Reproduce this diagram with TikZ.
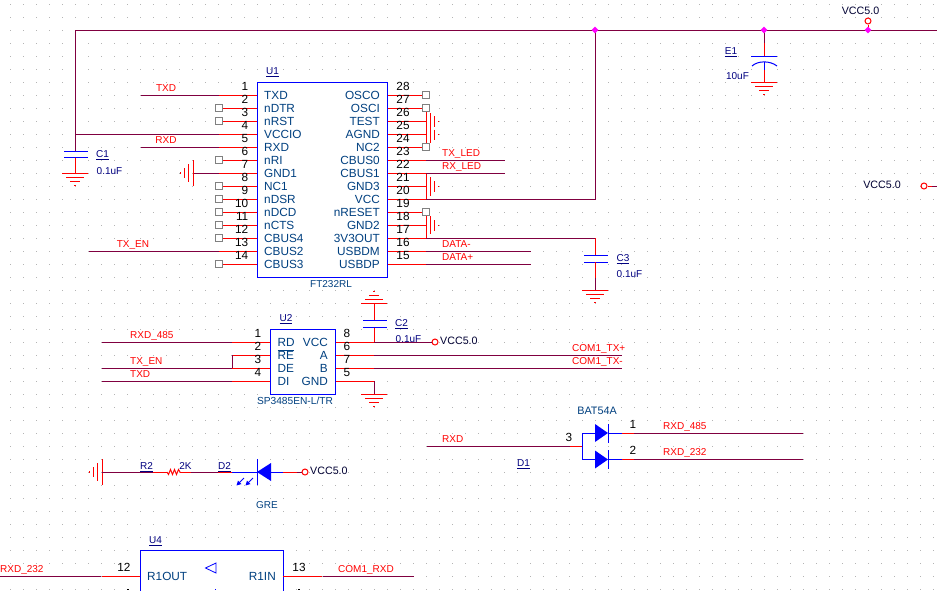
\documentclass[tikz,border=0pt]{standalone}
\usepackage{fontspec}
\setmainfont{Liberation Sans}
\definecolor{wirec}{RGB}{128,0,64}
\definecolor{pinc}{RGB}{255,0,0}
\definecolor{bodyc}{RGB}{0,0,255}
\definecolor{namec}{RGB}{0,64,128}
\definecolor{refc}{RGB}{0,0,128}
\definecolor{dotc}{RGB}{180,180,180}
\definecolor{sqc}{RGB}{128,128,128}
\definecolor{juncc}{RGB}{255,0,255}
\tikzset{
  lbl/.style={inner sep=0pt,text height=0.72em,text depth=0pt,font=\fontsize{10}{12}\selectfont},
  wirel/.style={draw=wirec,line width=1pt},
  pinl/.style={draw=pinc,line width=1pt},
  bodyl/.style={draw=bodyc,line width=1pt},
  pinname/.style={lbl,text=namec,font=\fontsize{11.8}{13}\selectfont},
  pinnum/.style={lbl,text=black,font=\fontsize{11.8}{13}\selectfont},
  netlbl/.style={lbl,text=pinc},
  reflbl/.style={lbl,text=refc},
  vcclbl/.style={lbl,text=black!80!blue,font=\fontsize{10.7}{12}\selectfont},
  nc/.style={draw=sqc,fill=white,line width=1pt,minimum size=6.5pt,inner sep=0pt,rectangle},
  juncdot/.style={fill=juncc,diamond,inner sep=0pt,minimum size=7pt},
  pwr/.style={draw=pinc,fill=white,line width=1pt,circle,inner sep=0pt,minimum size=6pt},
}
\usetikzlibrary{shapes.geometric}
\newcommand{\gnddown}[2]{%
  \draw[pinl] (#1-13,#2) -- (#1+13,#2) (#1-9,#2+4) -- (#1+9,#2+4) (#1-5,#2+8) -- (#1+5,#2+8) (#1-1,#2+12) -- (#1+1,#2+12);}
\newcommand{\gndup}[2]{%
  \draw[pinl] (#1-13,#2) -- (#1+13,#2) (#1-9,#2-4) -- (#1+9,#2-4) (#1-5,#2-8) -- (#1+5,#2-8) (#1-1,#2-12) -- (#1+1,#2-12);}
\newcommand{\gndleft}[2]{%
  \draw[pinl] (#1,#2-13) -- (#1,#2+13) (#1-4.5,#2-9) -- (#1-4.5,#2+9) (#1-9,#2-5) -- (#1-9,#2+5) (#1-13,#2-1) -- (#1-13,#2+1);}
\begin{document}
\begin{tikzpicture}[x=1pt,y=-1pt]
\useasboundingbox (0,0) rectangle (937,590);
\clip (0,0) rectangle (937,590);
\fill[white] (0,0) rectangle (937,590);
% grid
\foreach \gx in {10,23,...,937}{\foreach \gy in {4,17,...,590}{\fill[dotc] (\gx-.5,\gy-.5) rectangle (\gx+.5,\gy+.5);}}
% component bodies hide the grid
\fill[white] (257.5,82.5) rectangle (387.5,277);
\fill[white] (270.5,329) rectangle (335.5,394);
\fill[white] (140.5,550.5) rectangle (283.5,620);

% ---- U1 ----
\foreach \n/\y/\t in {1/95/TXD,2/108/nDTR,3/121/nRST,4/134/VCCIO,5/147/RXD,6/160/nRI,7/173/GND1,8/186/NC1,9/199/nDSR,10/212/nDCD,11/225/nCTS,12/238/CBUS4,13/251/CBUS2,14/264/CBUS3}{
  \coordinate (L\n) at (257,\y);
  \coordinate (La\n) at (219,\y);
  \draw[pinl] (L\n) -- (La\n);
  \node[pinname,anchor=west] (nameL\n) at (264,\y+1) {\t};
  \node[pinnum,anchor=east] (numL\n) at (248.5,\y-8) {\n};
}
\foreach \n/\y/\t in {28/95/OSCO,27/108/OSCI,26/121/TEST,25/134/AGND,24/147/NC2,23/160/CBUS0,22/173/CBUS1,21/186/GND3,20/199/VCC,19/212/nRESET,18/225/GND2,17/238/3V3OUT,16/251/USBDM,15/264/USBDP}{
  \coordinate (R\n) at (387,\y);
  \coordinate (Ra\n) at (426,\y);
  \draw[pinl] (R\n) -- (Ra\n);
  \node[pinname,anchor=east] (nameR\n) at (380,\y+1) {\t};
  \node[pinnum] (numR\n) at (403,\y-8) {\n};
}
\foreach \c in {La2,La3,La6,La8,La9,La10,La11,La12,La14}{\node[nc] (sq\c) at (\c) {};}
\draw[bodyl,fill=none] (257.5,82.5) rectangle (387.5,277);
\node[reflbl] (u1ref) at (272.5,71) {\underline{U1}};
\node[reflbl,text=namec] (u1val) at (331,284) {FT232RL};

% top rail
\coordinate (railL) at (75,30);
\coordinate (railR) at (937,30);
\coordinate (jVcc) at (595,30);
\coordinate (jE1) at (764,30);
\coordinate (jTop) at (868,30);
\draw[wirel] (railR) -- (railL) -- (75,151);
\draw[wirel] (La4) -- (75,134);
% C1
\draw[bodyl] (64,151) -- (88,151) (64,157.5) -- (88,157.5);
\draw[pinl] (75,157.5) -- (75,173);
\gnddown{75}{173}
\node[reflbl] (c1ref) at (102.5,154) {\underline{C1}};
\node[reflbl] (c1val) at (109.5,170.5) {0.1uF};
% U1 left nets
\coordinate (txdE) at (141,95);
\coordinate (rxdE) at (141,147);
\coordinate (enE) at (89,251);
\draw[wirel] (txdE) -- (La1);
\draw[wirel] (rxdE) -- (La5);
\draw[wirel] (enE) -- (La13);
\node[netlbl] (lTXD) at (166,88) {TXD};
\node[netlbl] (lRXD) at (166,140) {RXD};
\node[netlbl] (lEN) at (133,244) {TX\_EN};
\draw[wirel] (193,173) -- (La7);
\gndleft{193}{173}
% U1 right
\draw[pinl] (Ra27) -- (Ra24);
\draw[pinl] (430.5,113) -- (430.5,143) (434,116) -- (434,127) (434,129.5) -- (434,139.5);
\draw[pinl] (438,121) -- (439,121) (438,134) -- (439,134);
\draw[pinl] (Ra22) -- (Ra20);
\draw[pinl] (430.5,177) -- (430.5,196) (434,181) -- (434,192) (438,186) -- (439,186);
\draw[pinl] (Ra19) -- (Ra17);
\draw[pinl] (430.5,216) -- (430.5,234) (434,220) -- (434,231) (438,225) -- (439,225);
\foreach \c in {Ra28,Ra27,Ra24,Ra19}{\node[nc] (sq\c) at (\c) {};}
\draw[wirel] (Ra23) -- (505,160);
\draw[wirel] (Ra22) -- (505,173);
\draw[wirel] (Ra20) -- (595,199) -- (jVcc);
\coordinate (c3t) at (595,255);
\draw[wirel] (Ra17) -- (595,238);
\draw[pinl] (595,238) -- (c3t);
\draw[wirel] (Ra16) -- (531,251);
\draw[wirel] (Ra15) -- (531,264);
\node[netlbl,anchor=west] (lTXL) at (442,153) {TX\_LED};
\node[netlbl,anchor=west] (lRXL) at (442,166) {RX\_LED};
\node[netlbl,anchor=west] (lDm) at (442,244) {DATA-};
\node[netlbl,anchor=west] (lDp) at (442,257) {DATA+};
% C3
\draw[bodyl] (584,255.5) -- (608,255.5) (584,262) -- (608,262);
\draw[pinl] (595,262) -- (595,277.5);
\draw[wirel] (595,277.5) -- (595,290);
\gnddown{595}{290}
\node[reflbl] (c3ref) at (623,258) {\underline{C3}};
\node[reflbl] (c3val) at (629.5,274) {0.1uF};

% ---- E1 ----
\draw[wirel] (jE1) -- (764,43);
\draw[pinl] (764,43) -- (764,56);
\draw[bodyl] (751,56.5) -- (777,56.5);
\draw[bodyl] (752,66) .. controls (758,60.5) and (770,60.5) .. (777,66);
\draw[bodyl] (764,61.5) -- (764,70);
\draw[pinl] (764,70) -- (764,82);
\gnddown{764}{82}
\node[reflbl] (e1ref) at (731,51) {\underline{E1}};
\node[reflbl] (e1val) at (737.5,76) {10uF};
\node[vcclbl] (vccTt) at (860.5,11) {VCC5.0};
\node[pwr] (vccT) at (868,21) {};
\draw[pinl] (vccT) -- (jTop);
\node[juncdot] (dA) at (jVcc) {};
\node[juncdot] (dB) at (jE1) {};
\node[juncdot] (dC) at (jTop) {};
% right VCC
\node[vcclbl] (vccRt) at (882,185) {VCC5.0};
\node[pwr] (vccR) at (924,186) {};
\draw[pinl] (vccR) -- (932,186);
\draw[wirel] (932,186) -- (937,186);

% ---- U2 ----
\node[reflbl] (c2val) at (408.5,339) {0.1uF};
\foreach \n/\y in {1/342,2/355,3/368,4/381}{
  \coordinate (UL\n) at (270,\y);
  \coordinate (ULa\n) at (232,\y);
  \draw[pinl] (UL\n) -- (ULa\n);
  \node[pinnum] (unL\n) at (258,\y-8) {\n};
}
\foreach \n/\y/\m in {8/342/a,6/355/b,7/368/c,5/381/d}{
  \coordinate (UR\n) at (335,\y);
  \coordinate (URa\n) at (374,\y);
  \draw[pinl] (UR\n) -- (URa\n);
  \node[pinnum] (unR\n) at (347,\y-8) {\n};
}
\draw[bodyl] (270.5,329) rectangle (335.5,394);
\node[pinname,anchor=west] (uRD) at (277.5,343) {RD};
\node[pinname,anchor=west] (uRE) at (277.5,356) {$\overline{\hbox{RE}}$};
\node[pinname,anchor=west] (uDE) at (277.5,369) {DE};
\node[pinname,anchor=west] (uDI) at (277.5,382) {DI};
\node[pinname,anchor=east] (uVC) at (328,343) {VCC};
\node[pinname,anchor=east] (uA) at (328,356) {A};
\node[pinname,anchor=east] (uB) at (328,369) {B};
\node[pinname,anchor=east] (uG) at (328,382) {GND};
\node[reflbl] (u2ref) at (286,318) {\underline{U2}};
\node[reflbl,text=namec,font=\fontsize{10.2}{12}\selectfont] (u2val) at (295,400.5) {SP3485EN-L/TR};
\draw[wirel] (102,342) -- (ULa1);
\draw[wirel] (102,368) -- (ULa3);
\draw[wirel] (102,381) -- (ULa4);
\draw[wirel] (ULa2) -- (ULa3);
\node[netlbl,anchor=west] (l485) at (130,335) {RXD\_485};
\node[netlbl,anchor=west] (lEN2) at (130,361) {TX\_EN};
\node[netlbl,anchor=west] (lTXD2) at (130,374) {TXD};
\draw[wirel] (URa6) -- (622,355);
\draw[wirel] (URa7) -- (622,368);
\node[netlbl,anchor=west] (lCp) at (572,348) {COM1\_TX+};
\node[netlbl,anchor=west] (lCm) at (572,361) {COM1\_TX-};
\node[pwr] (vccU) at (435,342) {};
\draw[wirel] (URa8) -- (vccU);
\node[vcclbl,anchor=west] (vccUt) at (440,341) {VCC5.0};
\draw[wirel] (URa5) -- (374,394);
\gnddown{374}{394}
\draw[pinl] (374,327) -- (URa8);
\draw[bodyl] (363,320) -- (387,320) (363,327) -- (387,327);
\draw[pinl] (374,303) -- (374,320);
\gndup{374}{303}
\node[reflbl] (c2ref) at (401.5,323) {\underline{C2}};

% ---- D1 ----
\coordinate (dT) at (595,433);
\coordinate (dB2) at (595,459.5);
\fill[bodyc] (595,424) -- (608,433) -- (595,442) -- cycle;
\fill[bodyc] (595,450.5) -- (608,459.5) -- (595,468.5) -- cycle;
\draw[bodyl] (608,424) -- (608,442.5) (608,450) -- (608,468.5);
\draw[bodyl] (dT) -- (582,433) -- (582,459.5) -- (dB2);
\draw[bodyl] (608,433) -- (622,433) (608,459.5) -- (622,459.5);
\draw[pinl] (622,433) -- (634,433) (622,459.5) -- (634,459.5);
\draw[wirel] (634,433) -- (803,433) (634,459.5) -- (803,459.5);
\draw[wirel] (427,446) -- (570,446);
\draw[pinl] (570,446) -- (582,446);
\node[pinnum] (dn3) at (569,438) {3};
\node[pinnum] (dn1) at (633,425) {1};
\node[pinnum] (dn2) at (633,451) {2};
\node[netlbl,anchor=west] (l4852) at (663,426) {RXD\_485};
\node[netlbl,anchor=west] (l232) at (663,452) {RXD\_232};
\node[netlbl,anchor=west] (lR3) at (442,439) {RXD};
\node[reflbl] (d1ref) at (523.5,463) {\underline{D1}};
\node[reflbl,text=namec,font=\fontsize{10.8}{12}\selectfont] (d1val) at (597,411) {BAT54A};

% ---- R2 / D2 ----
\gndleft{102}{472}
\draw[wirel] (102,472) -- (153,472);
\draw[pinl] (153,472) -- (167,472);
\draw[pinl] (167,472) -- (168.5,474.5) -- (170.5,469.5) -- (172.5,474.5) -- (174.5,469.5) -- (176.5,474.5) -- (178.5,469.5) -- (180,472);
\draw[pinl] (180,472) -- (191,472);
\draw[wirel] (191,472) -- (218,472);
\draw[pinl] (218,472) -- (232,472);
\draw[bodyl] (232,472) -- (257,472);
\draw[bodyl] (257,459) -- (257,485);
\fill[bodyc] (257,472) -- (271,463) -- (271,481) -- cycle;
\draw[bodyl] (271,472) -- (283,472);
\draw[pinl] (283,472) -- (297,472);
\draw[wirel] (297,472) -- (302,472);
\node[pwr] (vccD) at (305,472) {};
\node[vcclbl,anchor=west] (vccDt) at (310,471) {VCC5.0};
\foreach \ax in {0,9}{
  \draw[bodyl,line width=.8pt] (244+\ax,478) -- (238+\ax,484);
  \fill[bodyc] (236.5+\ax,485.5) -- (238+\ax,480.5) -- (241.5+\ax,484) -- cycle;
}
\node[reflbl] (r2ref) at (146.5,466) {\underline{R2}};
\node[reflbl] (r2val) at (185.5,466) {2K};
\node[reflbl] (d2ref) at (224.5,466) {\underline{D2}};
\node[reflbl,text=namec] (d2val) at (267,505) {GRE};

% ---- U4 ----
\draw[bodyl] (140.5,620) -- (140.5,550.5) -- (283.5,550.5) -- (283.5,620);
\node[reflbl] (u4ref) at (155.5,540) {\underline{U4}};
\draw[wirel] (0,576) -- (101,576);
\draw[pinl] (102,576) -- (140,576);
\draw[pinl] (283,576) -- (322,576);
\draw[wirel] (323,576) -- (414,576);
\node[pinnum] (un12) at (124,567.5) {12};
\node[pinnum] (un13) at (299,567.5) {13};
\node[pinname,anchor=west] (uR1O) at (147,577) {R1OUT};
\node[pinname,anchor=east] (uR1I) at (276,577) {R1IN};
\node[netlbl,anchor=west] (l232b) at (0,569) {RXD\_232};
\node[netlbl,anchor=west] (lCR) at (338,569) {COM1\_RXD};
\draw[bodyl,line width=.8pt] (216,563) -- (205.5,568) -- (216,573) -- cycle;
\fill[black] (126.5,588.5) rectangle (128.5,590);
\fill[black] (298,588.5) rectangle (300,590);
\fill[bodyc] (214.5,588.5) rectangle (216,590);
\end{tikzpicture}
\end{document}
